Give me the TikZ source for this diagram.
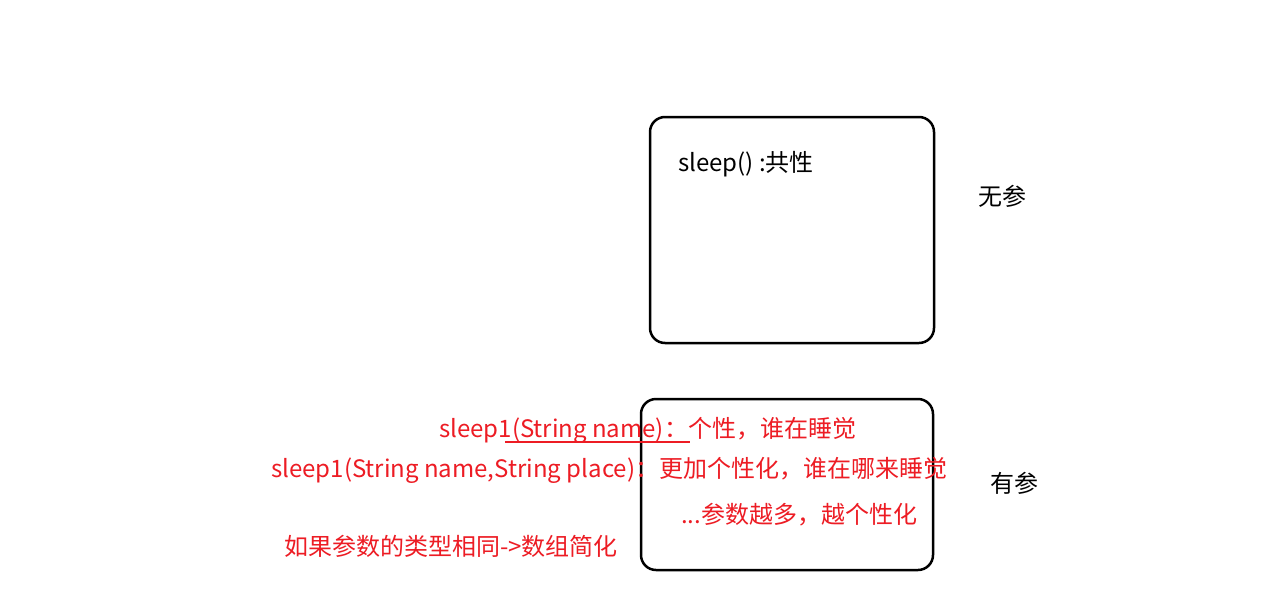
\documentclass[tikz,border=0pt]{standalone}
\usepackage{fontspec}
\setmainfont{Noto Sans CJK SC}
\definecolor{pred}{RGB}{237,28,36}
\begin{document}
\begin{tikzpicture}[x=1pt,y=-1pt,
  box/.style={draw=black,line width=2.5pt,rounded corners=15pt},
  txt/.style={anchor=west,inner sep=0pt,font=\fontsize{24}{28}\selectfont},
  rtxt/.style={txt,text=pred}]
\useasboundingbox[fill=white] (0,0) rectangle (1280,600);
\draw[box] (650,117) rectangle (934,343);
\draw[box] (641,399) rectangle (933,570);
\node[txt] (t1) at (678,164) {sleep() :共性};
\node[txt] (t2) at (978,196) {无参};
\node[txt] (t3) at (990,483) {有参};
\node[rtxt] (r1) at (439,430) {sleep1(String name)：个性，谁在睡觉};
\coordinate (u1) at (505,442);
\coordinate (u2) at (690,442);
\draw[pred,line width=2pt] (u1) -- (u2);
\node[rtxt] (r2) at (271,470) {sleep1(String name,String place)：更加个性化，谁在哪来睡觉};
\node[rtxt] (r3) at (681,515) {...参数越多，越个性化};
\node[rtxt] (r4) at (284,546) {如果参数的类型相同->数组简化};
\end{tikzpicture}
\end{document}
